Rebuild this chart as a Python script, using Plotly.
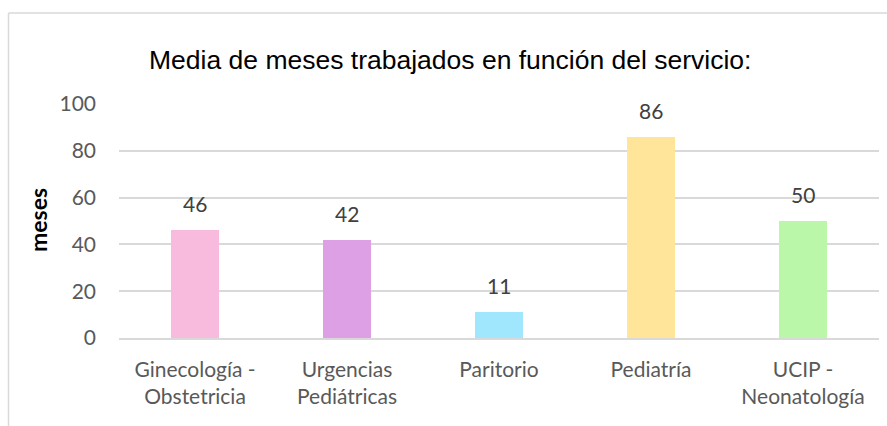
import plotly.graph_objects as go

categories = ["Ginecología -<br>Obstetricia", "Urgencias<br>Pediátricas", "Paritorio", "Pediatría", "UCIP -<br>Neonatología"]
values = [46, 42, 11, 86, 50]
colors = ["#F8BBDD", "#DDA0E5", "#A0E6FD", "#FEE599", "#BBF7A9"]
y_ticks = [0, 20, 40, 60, 80, 100]

W, H = 887, 426
L, R, T, B = 119, 8, 104, 88
pw, ph = W - L - R, H - T - B

def px(x):
    return (x - L) / pw

def py(y):
    return (H - B - y) / ph

fig = go.Figure()
fig.add_trace(go.Bar(x=categories, y=values, marker=dict(color=colors, line=dict(width=0)),
                     width=0.316, showlegend=False, hoverinfo="skip"))

label_font = dict(family="Lato, Carlito, Calibri, sans-serif", size=21, color="#404040")
for c, v in zip(categories, values):
    fig.add_annotation(x=c, y=v, text=str(v), showarrow=False, yanchor="bottom",
                       yshift=12, font=label_font)

fig.add_annotation(x=px(450), y=py(60), xref="paper", yref="paper", showarrow=False,
                   xanchor="center", yanchor="middle",
                   text="Media de meses trabajados en función del servicio:",
                   font=dict(family="Liberation Sans, Arial, sans-serif", size=26.5, color="#000000"))
fig.add_annotation(x=px(38), y=py(220), xref="paper", yref="paper", showarrow=False,
                   xanchor="center", yanchor="middle",
                   text="<b>meses</b>", textangle=-90,
                   font=dict(family="Lato, Carlito, Calibri, sans-serif", size=23, color="#000000"))

# chart border (top and left visible)
fig.add_shape(type="line", xref="paper", yref="paper", x0=px(8.5), x1=px(900), y0=py(13), y1=py(13),
              line=dict(color="#D9D9D9", width=1.5))
fig.add_shape(type="line", xref="paper", yref="paper", x0=px(8.5), x1=px(8.5), y0=py(13), y1=py(440),
              line=dict(color="#D9D9D9", width=1.5))

fig.update_layout(
    width=W, height=H, margin=dict(l=L, r=R, t=T, b=B),
    paper_bgcolor="white", plot_bgcolor="white",
    bargap=0,
    font=dict(family="Lato, Carlito, Calibri, sans-serif", size=21, color="#595959"),
)
fig.update_xaxes(showgrid=False, showline=True, linecolor="#D9D9D9", linewidth=1.5,
                 ticks="", ticklabelstandoff=12, tickfont=dict(size=21, color="#595959"))
fig.update_yaxes(range=[0, 100], tickvals=y_ticks, showgrid=True, gridcolor="#D9D9D9", gridwidth=1.5,
                 zeroline=False, showline=False, ticks="", ticklabelstandoff=22,
                 tickfont=dict(size=21, color="#595959"))

fig.write_html("out.html", config={"displayModeBar": False},
               post_script="document.body.style.margin='0px';")
